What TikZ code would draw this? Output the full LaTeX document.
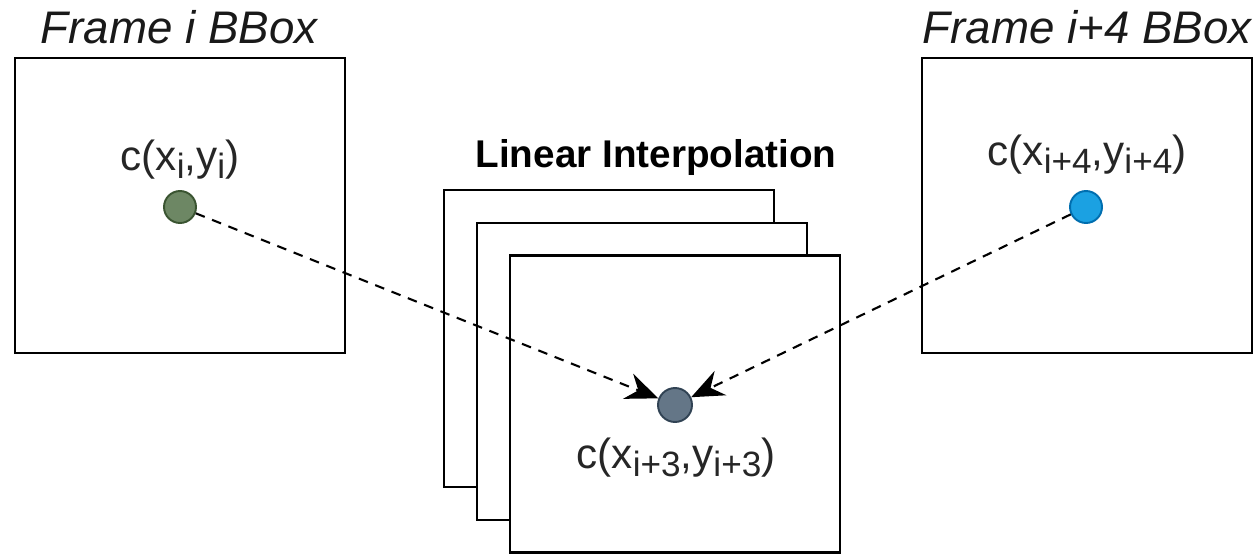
\documentclass[tikz,border=0pt]{standalone}
\usepackage{fontspec}
\setmainfont{Liberation Sans}
\usetikzlibrary{arrows.meta,positioning}
\definecolor{gfill}{HTML}{6D8764}
\definecolor{gline}{HTML}{3A5431}
\definecolor{bfill}{HTML}{1BA1E2}
\definecolor{bline}{HTML}{006EAF}
\definecolor{sfill}{HTML}{647687}
\definecolor{sline}{HTML}{314354}
\tikzset{
  box/.style={draw,line width=1.6pt,fill=white,minimum width=6.6cm,minimum height=5.9cm,inner sep=0pt},
  pt/.style={circle,draw,line width=1.1pt,minimum size=0.64cm,inner sep=0pt},
  lbl/.style={font=\fontsize{24}{28}\selectfont,text=black!85,inner sep=0pt,anchor=base},
  ttl/.style={font=\fontsize{26}{30}\selectfont\itshape,text=black!90,inner sep=0pt,anchor=base},
  hdr/.style={font=\fontsize{22}{26}\selectfont\bfseries,inner sep=0pt,anchor=base},
  lnk/.style={line width=1.2pt,dash pattern=on 5.5pt off 4.5pt,-{Stealth[length=6.5mm,width=5.4mm,inset=2.2mm]}}
}
\newcommand{\sbs}[1]{\raisebox{-0.2em}{\fontsize{20}{22}\selectfont #1}}
\newcommand{\cpt}[1]{c(x\sbs{#1},y\sbs{#1})}

\begin{document}
\begin{tikzpicture}[x=0.02cm,y=-0.02cm]
\useasboundingbox (0,0) rectangle (1258,555);
\node[box] (fi) at (180,205.5) {};
\node[box] (fk) at (1087,205.5) {};
\node[box,minimum height=5.94cm] (s1) at (609,338.5) {};
\node[box,minimum height=5.94cm] (s2) at (642,371.5) {};
\node[box,minimum height=5.94cm] (s3) at (675,404) {};
\node[ttl] (ti) at (179,43) {Frame i BBox};
\node[ttl] (tk) at (1087,43) {Frame i+4 BBox};
\node[hdr] (hd) at (656,167) {Linear Interpolation};
\node[pt,fill=gfill,draw=gline] (pi) at (180,207) {};
\node[pt,fill=bfill,draw=bline] (pk) at (1086,207) {};
\node[pt,fill=sfill,draw=sline,minimum size=0.68cm] (pm) at (675,405) {};
\node[lbl] (li) at (180,170) {\cpt{i}};
\node[lbl] (lk) at (1087,165) {\cpt{i+4}};
\node[lbl] (lm) at (676,468) {\cpt{i+3}};
\draw[lnk] (pi) -- (pm);
\draw[lnk] (pk) -- (pm);
\end{tikzpicture}
\end{document}
